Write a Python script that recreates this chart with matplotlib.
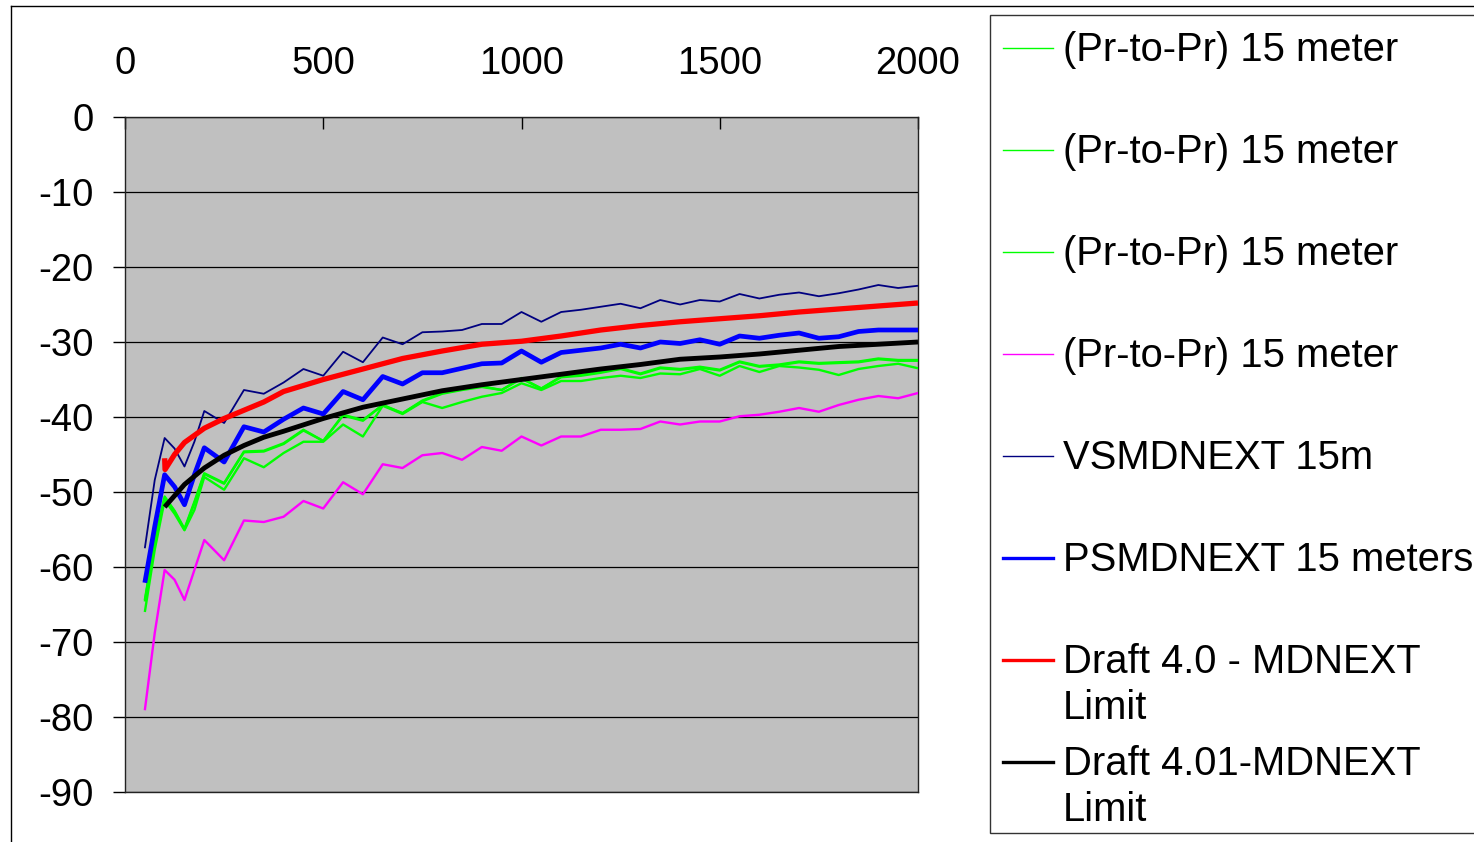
import matplotlib
matplotlib.use("Agg")
import matplotlib.pyplot as plt
from matplotlib.lines import Line2D
from matplotlib.patches import Rectangle

plt.rcParams['font.family'] = ['Liberation Sans', 'DejaVu Sans']

# ---------------- data ----------------
freq = [50, 75, 100, 125, 150, 175, 200, 250, 300, 350, 400, 450, 500, 550, 600,
        650, 700, 750, 800, 850, 900, 950, 1000, 1050, 1100, 1150, 1200, 1250,
        1300, 1350, 1400, 1450, 1500, 1550, 1600, 1650, 1700, 1750, 1800, 1850,
        1900, 1950, 2000]

pr_green1 = [-64.4, -56.4, -50.6, -52.5, -54.9, -51.3, -47.5, -48.8, -44.6, -44.5,
             -43.5, -41.7, -43.2, -39.7, -40.4, -38.4, -39.5, -37.8, -36.8, -36.3,
             -35.9, -36.4, -34.8, -36.2, -34.6, -34.4, -34.0, -33.5, -34.2, -33.4,
             -33.6, -33.3, -33.7, -32.6, -33.2, -33.0, -32.6, -32.8, -32.7, -32.6,
             -32.2, -32.4, -32.4]
pr_green2 = [-66.0, -57.7, -51.1, -52.9, -55.1, -52.4, -48.0, -49.7, -45.5, -46.7,
             -44.8, -43.3, -43.3, -41.0, -42.6, -38.5, -39.6, -38.0, -38.8, -38.0,
             -37.3, -36.8, -35.5, -36.4, -35.2, -35.2, -34.8, -34.5, -34.8, -34.2,
             -34.3, -33.6, -34.5, -33.2, -34.0, -33.2, -33.4, -33.7, -34.4, -33.6,
             -33.2, -32.9, -33.5]
pr_green3 = [-64.6, -56.6, -50.8, -52.6, -55.0, -51.5, -47.6, -48.9, -44.7, -44.6,
             -43.6, -41.8, -43.2, -39.8, -40.5, -38.4, -39.5, -37.9, -36.9, -36.4,
             -36.0, -36.4, -34.9, -36.2, -34.7, -34.5, -34.1, -33.6, -34.3, -33.5,
             -33.7, -33.4, -33.8, -32.7, -33.3, -33.1, -32.7, -32.9, -32.8, -32.7,
             -32.3, -32.5, -32.5]
pr_magenta = [-79.1, -68.8, -60.4, -61.7, -64.4, -60.4, -56.4, -59.1, -53.8, -54.0,
              -53.3, -51.2, -52.2, -48.7, -50.3, -46.3, -46.8, -45.1, -44.8, -45.7,
              -44.0, -44.5, -42.6, -43.8, -42.6, -42.6, -41.7, -41.7, -41.6, -40.6,
              -41.0, -40.6, -40.6, -39.9, -39.7, -39.3, -38.8, -39.3, -38.4, -37.7,
              -37.2, -37.5, -36.8]
vsmdnext = [-57.5, -48.4, -42.8, -44.2, -46.6, -43.3, -39.2, -40.8, -36.4, -36.9,
            -35.4, -33.6, -34.5, -31.3, -32.7, -29.4, -30.3, -28.7, -28.6, -28.4,
            -27.6, -27.6, -26.0, -27.3, -26.0, -25.7, -25.3, -24.9, -25.5, -24.4,
            -25.0, -24.4, -24.6, -23.6, -24.2, -23.7, -23.4, -23.9, -23.5, -23.0,
            -22.4, -22.8, -22.5]
psmdnext = [-62.1, -54.6, -47.7, -49.3, -51.7, -47.7, -44.1, -46.0, -41.3, -42.0,
            -40.3, -38.8, -39.6, -36.6, -37.7, -34.6, -35.6, -34.1, -34.1, -33.5,
            -32.9, -32.8, -31.2, -32.7, -31.4, -31.1, -30.8, -30.3, -30.8, -30.0,
            -30.2, -29.7, -30.3, -29.2, -29.5, -29.1, -28.8, -29.5, -29.3, -28.6,
            -28.4, -28.4, -28.4]

limit40_freq = [100, 101, 125, 150, 200, 250, 300, 350, 400, 500, 600, 700, 800,
                900, 1000, 1100, 1200, 1300, 1400, 1500, 1600, 1700, 1800, 1900, 2000]
limit40 = [-45.5, -47.0, -45.0, -43.4, -41.5, -40.2, -39.1, -38.0, -36.6, -35.0,
           -33.6, -32.2, -31.2, -30.3, -29.9, -29.2, -28.4, -27.8, -27.3, -26.9,
           -26.5, -26.0, -25.6, -25.2, -24.8]

limit401_freq = [100, 125, 150, 200, 250, 300, 350, 400, 500, 600, 700, 800, 900,
                 1000, 1100, 1200, 1300, 1400, 1500, 1600, 1700, 1800, 1900, 2000]
limit401 = [-52.0, -50.5, -49.0, -46.8, -45.1, -43.8, -42.7, -41.9, -40.2, -38.7,
            -37.6, -36.5, -35.7, -35.0, -34.3, -33.6, -33.0, -32.3, -32.0, -31.6,
            -31.1, -30.6, -30.3, -30.0]

x_ticks = [0, 500, 1000, 1500, 2000]
y_ticks = [0, -10, -20, -30, -40, -50, -60, -70, -80, -90]

labels = ["(Pr-to-Pr) 15 meter", "(Pr-to-Pr) 15 meter", "(Pr-to-Pr) 15 meter",
          "(Pr-to-Pr) 15 meter", "VSMDNEXT 15m", "PSMDNEXT 15 meters",
          "Draft 4.0 - MDNEXT\nLimit", "Draft 4.01-MDNEXT\nLimit"]

# ---------------- figure ----------------
W, H = 1474, 842
fig = plt.figure(figsize=(W / 100, H / 100), dpi=100)
fig.patch.set_facecolor('white')


def fx(px):
    return px / W


def fy(py):
    return 1 - py / H


ax = fig.add_axes([fx(125), fy(792), (918 - 125) / W, (792 - 117) / H])
ax.set_facecolor('#C0C0C0')

series = [
    (freq, pr_green1, '#00FF00', 1.7, 1.0),
    (freq, pr_green2, '#00FF00', 1.7, 1.0),
    (freq, pr_green3, '#00FF00', 1.7, 1.0),
    (freq, pr_magenta, '#FF00FF', 1.7, 1.0),
    (freq, vsmdnext, '#000080', 1.3, 1.0),
    (freq, psmdnext, '#0000FF', 3.4, 2.4),
    (limit40_freq, limit40, '#FF0000', 3.8, 2.4),
    (limit401_freq, limit401, '#000000', 3.5, 2.4),
]

for xs, ys, c, lw, _ in series:
    ax.plot(xs, ys, color=c, lw=lw, solid_joinstyle='round',
            solid_capstyle='butt', zorder=3)

ax.set_xlim(0, 2000)
ax.set_ylim(-90, 0)
ax.set_xticks(x_ticks)
ax.set_yticks(y_ticks)
ax.set_xticklabels([str(v) for v in x_ticks])
ax.set_yticklabels([str(v) for v in y_ticks])
ax.xaxis.tick_top()
ax.tick_params(axis='x', direction='in', length=8.5, width=1.0, pad=25,
               labelsize=27.5, colors='black')
ax.tick_params(axis='y', direction='out', length=8.5, width=1.0, pad=14,
               labelsize=27.5, colors='black')
ax.yaxis.grid(True, color='black', lw=0.9, zorder=1)
ax.set_axisbelow(True)
for s in ax.spines.values():
    s.set_color('#222222')
    s.set_linewidth(1.0)

# chart-area border (top and left visible)
fig.add_artist(Line2D([fx(11), fx(W + 5)], [fy(6), fy(6)], color='black', lw=1.0))
fig.add_artist(Line2D([fx(11), fx(11)], [fy(6), fy(H + 5)], color='black', lw=1.0))

# legend box
fig.add_artist(Rectangle((fx(990), fy(833)), (W + 10 - 990) / W, (833 - 15) / H,
                         transform=fig.transFigure, facecolor='white',
                         edgecolor='#333333', lw=1.0))

entry_y = [48, 150, 252, 354, 456, 558, 660, 762]
for (xs, ys, c, lw, llw), lab, yc in zip(series, labels, entry_y):
    fig.add_artist(Line2D([fx(1003), fx(1053)], [fy(yc), fy(yc)], color=c, lw=llw))
    for i, line in enumerate(lab.split('\n')):
        fig.text(fx(1063), fy(yc + 2 + i * 46), line, fontsize=28.8, va='center',
                 ha='left', color='black')

fig.savefig('out.png', dpi=100)
